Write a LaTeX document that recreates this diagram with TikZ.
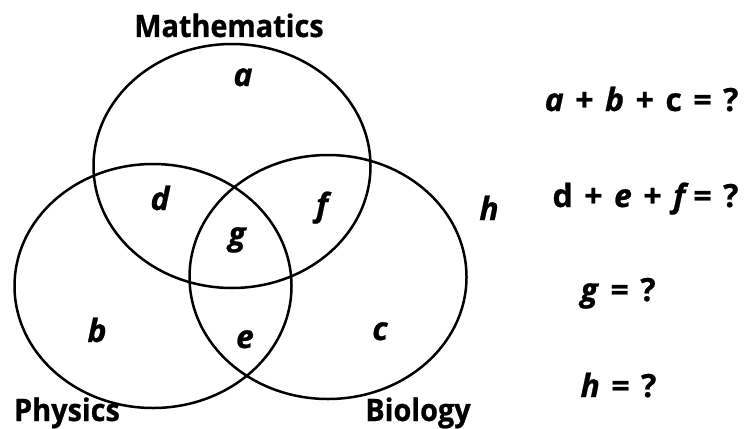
\documentclass[tikz,border=0pt]{standalone}
\usepackage{fontspec}
\setmainfont{Open Sans}[BoldFeatures={FakeBold=0.7}, BoldItalicFeatures={FakeBold=0.7}]
\newfontfamily\titlefont{Open Sans}[FakeStretch=0.93, BoldFeatures={FakeBold=0.7}]
\usepackage{tikz}
\usetikzlibrary{positioning,shapes.geometric}
\newcommand{\gap}{\hspace{0.36em}}

\begin{document}
\begin{tikzpicture}[
  x=1pt, y=-1pt,
  set/.style={draw, ellipse, line width=2.5pt, inner sep=0pt,
    minimum width=277pt, minimum height=244pt},
  region/.style={anchor=base, font=\fontsize{32}{38}\selectfont\bfseries\itshape},
  title/.style={anchor=base, font=\titlefont\fontsize{31}{36}\selectfont\bfseries},
  sum/.style={font=\fontsize{32}{38}\selectfont\bfseries},
]
  \useasboundingbox (0,0) rectangle (751,428);

  % Sets
  \node[set] (math) at (232,166) {};
  \node[set] (phys) at (153,286) {};
  \node[set] (bio) at (328,277) {};

  % Set names
  \node[title] (mathname) at (229,37) {Mathematics};
  \node[title] (physname) at (67,421) {Physics};
  \node[title] (bioname) at (418,421) {Biology};

  % Regions
  \foreach \name/\x/\y in {a/243/86, d/160/210, f/322/216, g/237/245,
                           b/97/342, e/245/348, c/380/340, h/489/220} {
    \node[region] (reg\name) at (\x,\y) {\name};
  }

  % Questions
  \node[sum, anchor=base east] (q1) at (742,111)
    {\textit{a}\gap+\gap\textit{b}\gap+\gap c\gap=\gap?};
  \node[sum, anchor=base east] (q2) at (742,207)
    {d\gap+\gap\textit{e}\gap+\gap\textit{f}\hspace{0.15em}=\gap?};
  \node[sum, anchor=base west] (q3) at (577,301) {\textit{g}\gap=\gap?};
  \node[sum, anchor=base west] (q4) at (577,397) {\textit{h}\gap=\gap?};
\end{tikzpicture}
\end{document}
